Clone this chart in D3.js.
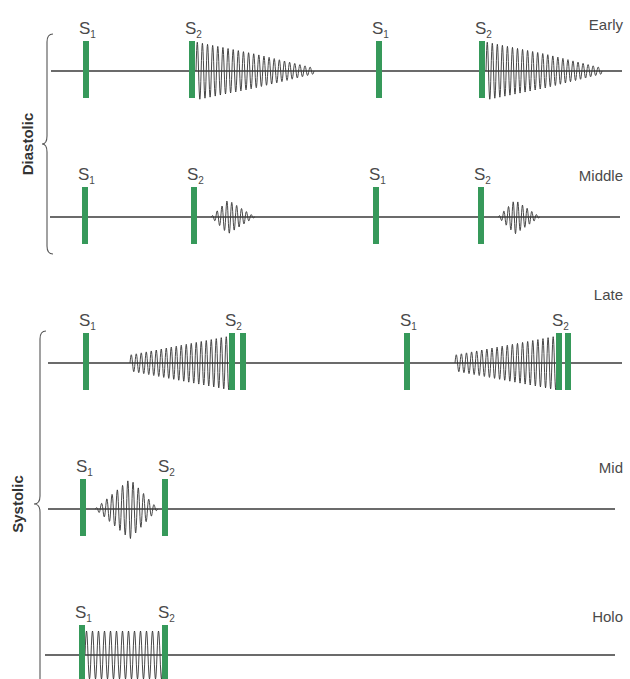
<!DOCTYPE html>
<html lang="en">
<head>
<meta charset="UTF-8">
<title>Heart murmurs</title>
<script src="https://d3js.org/d3.v7.min.js"></script>
<style>
    body { margin: 0; background: #fff; }
    text { font-family: "Liberation Sans", Arial, sans-serif; }
    .rowlabel { font-size: 15px; fill: #4a4a4a; }
    .slabel { font-size: 17px; fill: #4a4a4a; }
    .group { font-size: 15px; font-weight: bold; fill: #333; }
</style>
</head>
<body>
<svg width="630" height="679"></svg>
<script>
    // rows of the figure, top to bottom
    const rowNames = ["Early", "Middle", "Late", "Mid", "Holo"];
    const groupNames = ["Diastolic", "Systolic"];
    const groupRows = [["Early", "Middle"], ["Late", "Mid", "Holo"]];

    // time in ms along each trace
    const traceSpan = [[12, 1154], [10, 1150], [6, 1154], [6, 1140], [0, 1140]];

    // heart sounds: which sound, and the time(s) of its bar(s)
    const earlySounds = [{ s: 1, t: [82] }, { s: 2, t: [294] }, { s: 1, t: [668] }, { s: 2, t: [874] }];
    const middleSounds = [{ s: 1, t: [80] }, { s: 2, t: [298] }, { s: 1, t: [662] }, { s: 2, t: [872] }];
    const lateSounds = [{ s: 1, t: [82] }, { s: 2, t: [374, 396] }, { s: 1, t: [724] }, { s: 2, t: [1028, 1046] }];
    const midSounds = [{ s: 1, t: [76] }, { s: 2, t: [240] }];
    const holoSounds = [{ s: 1, t: [74] }, { s: 2, t: [240] }];
    const sounds = [earlySounds, middleSounds, lateSounds, midSounds, holoSounds];

    // murmurs: envelope [time, amplitude] and number of oscillations
    const earlyMurmurs = [
        { env: [[302, 29], [420, 17], [538, 3]], cycles: 23 },
        { env: [[882, 29], [1000, 17], [1114, 3]], cycles: 23 }
    ];
    const middleMurmurs = [
        { env: [[332, 0], [366, 17], [420, 0]], cycles: 9 },
        { env: [[906, 0], [940, 17], [990, 0]], cycles: 9 }
    ];
    const lateMurmurs = [
        { env: [[170, 8], [370, 27]], cycles: 20 },
        { env: [[820, 8], [1024, 27]], cycles: 20 }
    ];
    const midMurmurs = [{ env: [[100, 0], [170, 30], [226, 0]], cycles: 12 }];
    const holoMurmurs = [{ env: [[80, 24], [236, 24]], cycles: 13 }];
    const murmurs = [earlyMurmurs, middleMurmurs, lateMurmurs, midMurmurs, holoMurmurs];

    // label offsets above each trace
    const rowLabelDy = [-41, -36, -63, -36, -33];

    const green = "#36995a";
    const ink = "#3a3a3a";

    const svg = d3.select("svg");

    const x = d3.scaleLinear().domain([0, 1160]).range([45, 625]);
    const y = d3.scalePoint().domain(rowNames).range([71, 655]);

    const rows = svg.selectAll("g.row")
        .data(rowNames)
        .enter()
        .append("g")
        .attr("class", "row")
        .attr("transform", d => "translate(0," + y(d) + ")");

    // murmurs first, so the bars sit on top
    rows.each(function (name, i) {
        const g = d3.select(this);
        murmurs[i].forEach(function (m) {
            const t0 = m.env[0][0], t1 = m.env[m.env.length - 1][0];
            const amp = d3.scaleLinear().domain(m.env.map(d => d[0])).range(m.env.map(d => d[1]));
            const n = m.cycles * 16;
            const pts = d3.range(n + 1).map(function (k) {
                const u = k / n;
                const t = t0 + u * (t1 - t0);
                return [x(t), -amp(t) * Math.sin(2 * Math.PI * m.cycles * u)];
            });
            g.append("path")
                .attr("d", d3.line()(pts))
                .attr("fill", "none")
                .attr("stroke", "#333")
                .attr("stroke-width", 0.9)
                .attr("stroke-linejoin", "round");
        });
    });

    // baselines
    rows.append("line")
        .attr("x1", (d, i) => x(traceSpan[i][0]))
        .attr("x2", (d, i) => x(traceSpan[i][1]))
        .attr("y1", 0).attr("y2", 0)
        .attr("stroke", ink)
        .attr("stroke-width", 1.4);

    // S1 / S2 bars and labels
    rows.each(function (name, i) {
        const g = d3.select(this);
        sounds[i].forEach(function (snd) {
            snd.t.forEach(function (t) {
                g.append("rect")
                    .attr("x", x(t) - 3)
                    .attr("y", -30)
                    .attr("width", 6)
                    .attr("height", 57)
                    .attr("fill", green);
            });
            const lab = g.append("text")
                .attr("class", "slabel")
                .attr("x", x(snd.t[0]) - 7)
                .attr("y", -37);
            lab.append("tspan").text("S");
            lab.append("tspan").attr("dy", 4).style("font-size", "10px").text(snd.s);
        });
    });

    rows.append("text")
        .attr("class", "rowlabel")
        .attr("x", 623)
        .attr("y", (d, i) => rowLabelDy[i])
        .attr("text-anchor", "end")
        .text(d => d);

    // curly braces for the two groups
    function brace(xs, top, mid, bottom, tip) {
        return "M" + (xs + 6) + "," + top +
            " Q" + xs + "," + top + " " + xs + "," + (top + 8) +
            " L" + xs + "," + (mid - 8) +
            " Q" + xs + "," + mid + " " + tip + "," + mid +
            " Q" + xs + "," + mid + " " + xs + "," + (mid + 8) +
            " L" + xs + "," + (bottom - 8) +
            " Q" + xs + "," + bottom + " " + (xs + 6) + "," + bottom;
    }

    // systolic brace runs off the bottom edge
    const braceLayout = [
        { xs: 47, top: 34, mid: 144, bottom: 254, tip: 42, lx: 33 },
        { xs: 40, top: 331, mid: 504, bottom: 720, tip: 34, lx: 23 }
    ];

    groupNames.forEach(function (gname, i) {
        const b = braceLayout[i];
        svg.append("path")
            .attr("d", brace(b.xs, b.top, b.mid, b.bottom, b.tip))
            .attr("fill", "none")
            .attr("stroke", "#555")
            .attr("stroke-width", 1.1);
        svg.append("text")
            .attr("class", "group")
            .attr("transform", "translate(" + b.lx + "," + b.mid + ") rotate(-90)")
            .attr("text-anchor", "middle")
            .text(gname);
    });
</script>
</body>
</html>
